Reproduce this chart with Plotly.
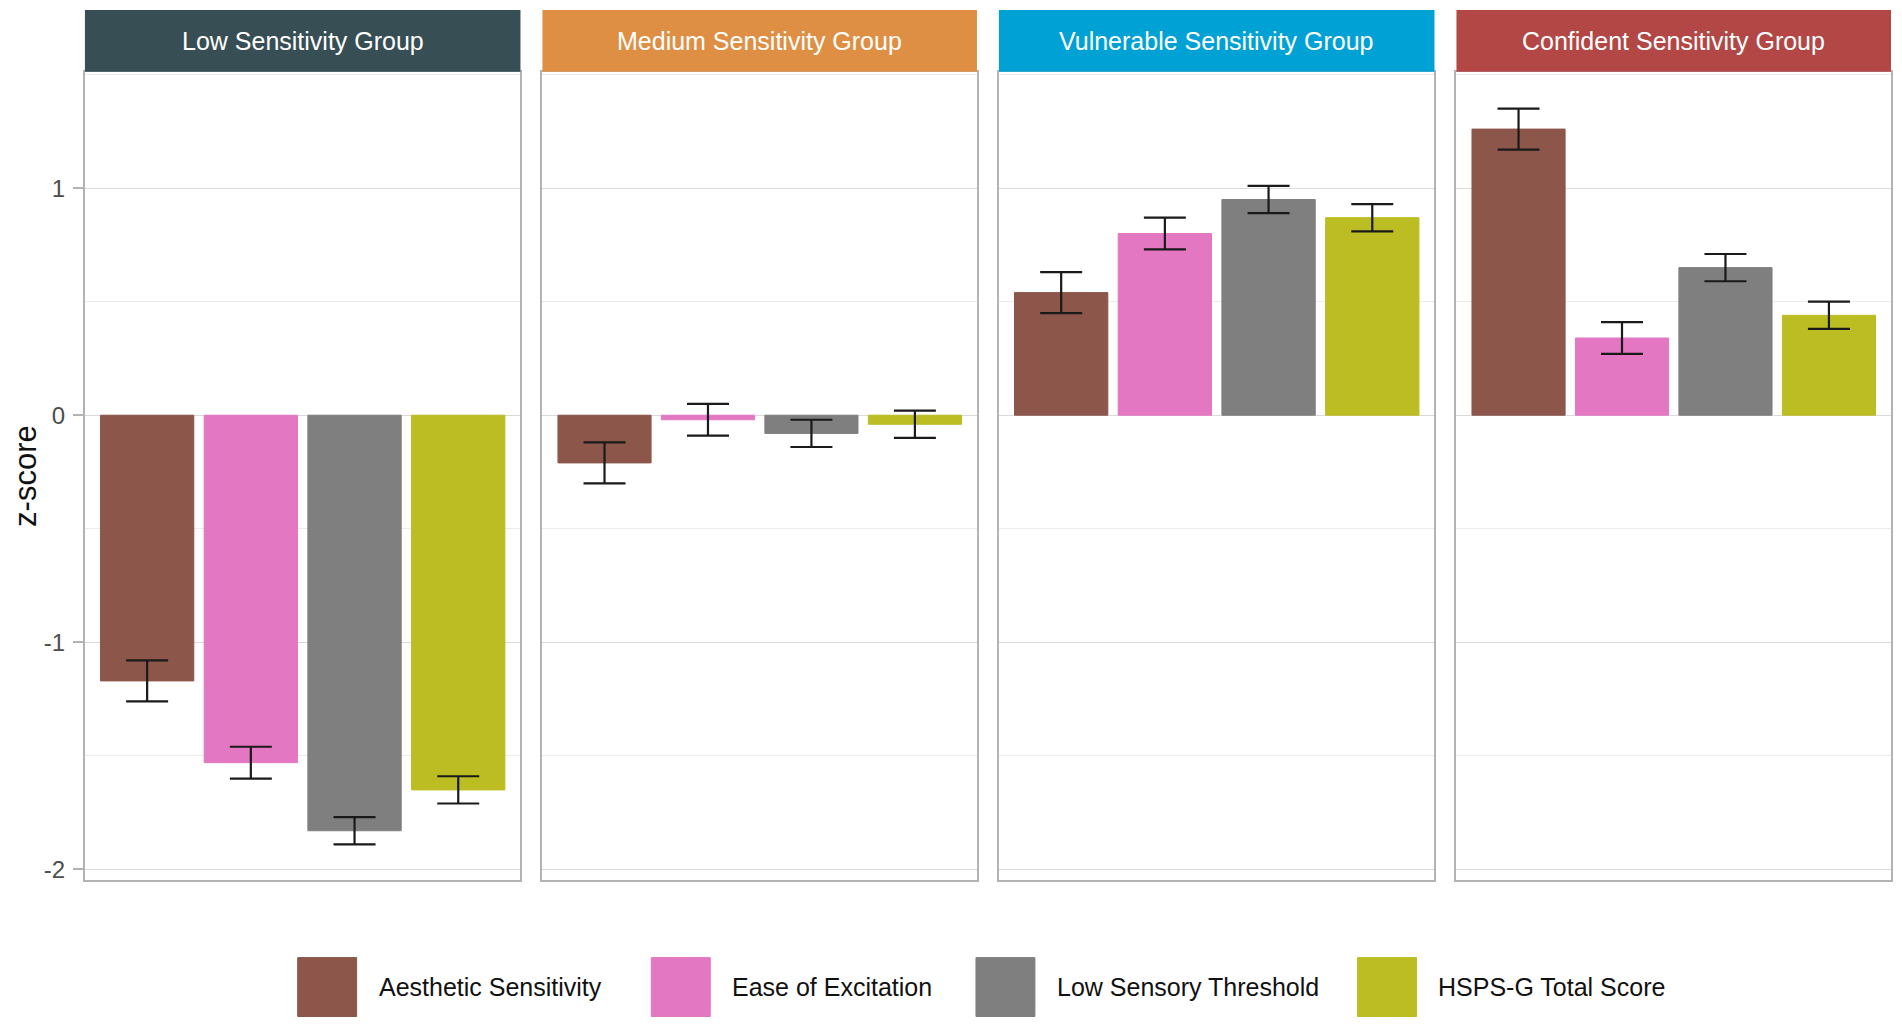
import plotly.graph_objects as go
from plotly.subplots import make_subplots

# data (group means of z-scores, +/- error)
groups = ["Low Sensitivity Group", "Medium Sensitivity Group",
          "Vulnerable Sensitivity Group", "Confident Sensitivity Group"]
measures = ["Aesthetic Sensitivity", "Ease of Excitation",
            "Low Sensory Threshold", "HSPS-G Total Score"]

low_mean = [-1.17, -1.53, -1.83, -1.65]
low_err = [0.09, 0.07, 0.06, 0.06]
medium_mean = [-0.21, -0.02, -0.08, -0.04]
medium_err = [0.09, 0.07, 0.06, 0.06]
vulnerable_mean = [0.54, 0.80, 0.95, 0.87]
vulnerable_err = [0.09, 0.07, 0.06, 0.06]
confident_mean = [1.26, 0.34, 0.65, 0.44]
confident_err = [0.09, 0.07, 0.06, 0.06]

y_ticks = [-2, -1, 0, 1]
y_tick_labels = ["-2", "-1", "0", "1"]

means = [low_mean, medium_mean, vulnerable_mean, confident_mean]
errs = [low_err, medium_err, vulnerable_err, confident_err]

bar_colors = ["#8C564B", "#E377C2", "#7F7F7F", "#BCBD22"]
strip_colors = ["#374E55", "#DF8F44", "#00A1D5", "#B24745"]

# page body has an 8px margin, so the figure is 16px smaller than the window
OFF = 8
W, H = 1902 - 2 * OFF, 1026 - 2 * OFF
panel_x = [(83, 519), (541, 976), (998, 1434), (1456, 1891)]
panel_top, panel_bottom, strip_top = 72, 882, 10
FONT = "Liberation Sans, Arial, sans-serif"


def px(v):
    return (v - OFF) / W


def py(v):
    return 1 - (v - OFF) / H


fig = make_subplots(rows=1, cols=4, shared_yaxes=True)

for i, g in enumerate(groups):
    fig.add_trace(go.Bar(
        x=measures, y=means[i], width=0.9,
        marker=dict(color=bar_colors, line=dict(color=bar_colors, width=1)),
        error_y=dict(type="data", array=errs[i], visible=True,
                     color="#1a1a1a", thickness=2.2, width=21),
        showlegend=False, hoverinfo="x+y",
    ), row=1, col=i + 1)

shapes = []
annotations = []
for i, g in enumerate(groups):
    x0, x1 = panel_x[i]
    xa = "xaxis" if i == 0 else f"xaxis{i + 1}"
    ya = "yaxis" if i == 0 else f"yaxis{i + 1}"
    fig.layout[xa].update(
        domain=[px(x0), px(x1)], type="category", range=[-0.6, 3.6],
        showticklabels=False, ticks="", showgrid=False, zeroline=False,
        showline=True, mirror=True, linecolor="#b3b3b3", linewidth=2,
    )
    fig.layout[ya].update(
        domain=[py(panel_bottom), py(panel_top)],
        range=[-2.048, 1.512], tickvals=y_ticks, ticktext=y_tick_labels,
        showgrid=True, gridcolor="#dadada", gridwidth=1.4,
        minor=dict(dtick=0.5, tick0=0, showgrid=True, gridcolor="#ececec", gridwidth=1),
        zeroline=False, showline=True, mirror=True,
        linecolor="#b3b3b3", linewidth=2,
        showticklabels=(i == 0), ticks="outside" if i == 0 else "",
        ticklen=10, tickwidth=1.5, tickcolor="#b3b3b3",
        ticklabelstandoff=3,
        tickfont=dict(family=FONT, size=24, color="#4d4d4d"),
    )
    xref = "x domain" if i == 0 else f"x{i + 1} domain"
    shapes.append(dict(type="rect", xref=xref, yref="paper",
                       x0=0, x1=1, y0=py(panel_top), y1=py(strip_top),
                       fillcolor=strip_colors[i], line=dict(width=0)))
    annotations.append(dict(text=g, xref=xref, yref="paper", x=0.5,
                            y=py((panel_top + strip_top) / 2),
                            xanchor="center", yanchor="middle", showarrow=False,
                            font=dict(family=FONT, size=25, color="white")))

fig.layout.yaxis.title = dict(text="z-score", standoff=14,
                              font=dict(family=FONT, size=31, color="#111111"))

# hand-made legend with large keys
key_x = [296, 650, 975, 1357]
key_size = 59
key_cy = 989
for k, name in enumerate(measures):
    shapes.append(dict(type="rect", xref="paper", yref="paper",
                       x0=px(key_x[k]), x1=px(key_x[k] + key_size),
                       y0=py(key_cy + key_size / 2), y1=py(key_cy - key_size / 2),
                       fillcolor=bar_colors[k], line=dict(color=bar_colors[k], width=1)))
    annotations.append(dict(text=name, xref="paper", yref="paper",
                            x=px(key_x[k] + key_size + 20), y=py(key_cy),
                            xanchor="left", yanchor="middle", showarrow=False,
                            font=dict(family=FONT, size=25, color="#111111")))

fig.update_layout(
    width=W, height=H, margin=dict(l=0, r=0, t=0, b=0),
    paper_bgcolor="white", plot_bgcolor="white",
    shapes=shapes, annotations=annotations, bargap=0.1,
)

fig.write_html("out.html")
